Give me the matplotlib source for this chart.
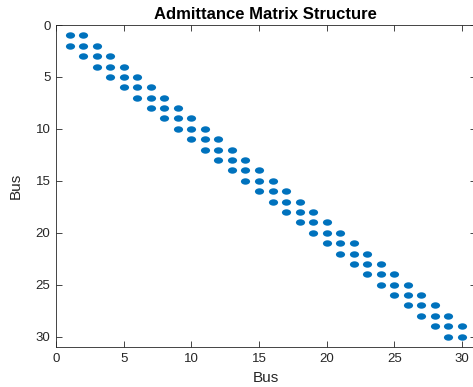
import numpy as np
import matplotlib
matplotlib.use('Agg')
from matplotlib import pyplot as plt
from matplotlib.path import Path
from matplotlib.transforms import Affine2D

plt.rcParams['font.family'] = ['Liberation Sans', 'DejaVu Sans']

# branch list (from bus, to bus) of the 30-bus radial feeder
n_bus = 30
branches = [(1, 2), (2, 3), (3, 4), (4, 5), (5, 6), (6, 7), (7, 8), (8, 9),
            (9, 10), (10, 11), (11, 12), (12, 13), (13, 14), (14, 15),
            (15, 16), (16, 17), (17, 18), (18, 19), (19, 20), (20, 21),
            (21, 22), (22, 23), (23, 24), (24, 25), (25, 26), (26, 27),
            (27, 28), (28, 29), (29, 30)]
ticks = [0, 5, 10, 15, 20, 25, 30]

# build the admittance pattern
Y = np.zeros((n_bus, n_bus))
for a, b in branches:
    Y[a-1, a-1] = 1
    Y[b-1, b-1] = 1
    Y[a-1, b-1] = 1
    Y[b-1, a-1] = 1
rows, cols = np.nonzero(Y)

# flattened dot like the stretched spy marker
dot = Path.unit_circle().transformed(Affine2D().scale(1.0, 0.7))

fig = plt.figure(figsize=(4.73, 3.87), dpi=100)
ax = fig.add_axes([0.1184, 0.1034, 0.887, 0.832])
ax.plot(cols + 1, rows + 1, linestyle='none', marker=dot, color='#0072BD',
        markersize=6.6, markeredgewidth=0)
ax.set_xlim(0, n_bus + 1)
ax.set_ylim(n_bus + 1, 0)
ax.set_xticks(ticks)
ax.set_yticks(ticks)
ax.tick_params(direction='in', top=True, right=True, labelsize=9.5,
               colors='#262626', length=4, width=0.6, pad=4)
for s in ax.spines.values():
    s.set_color('#262626')
    s.set_linewidth(0.6)
ax.set_xlabel('Bus', fontsize=11, color='#262626', labelpad=5)
ax.set_ylabel('Bus', fontsize=11, color='#262626', labelpad=9)
ax.set_title('Admittance Matrix Structure', fontsize=12, fontweight='bold',
             pad=4)

plt.savefig('out.png', dpi=100)
